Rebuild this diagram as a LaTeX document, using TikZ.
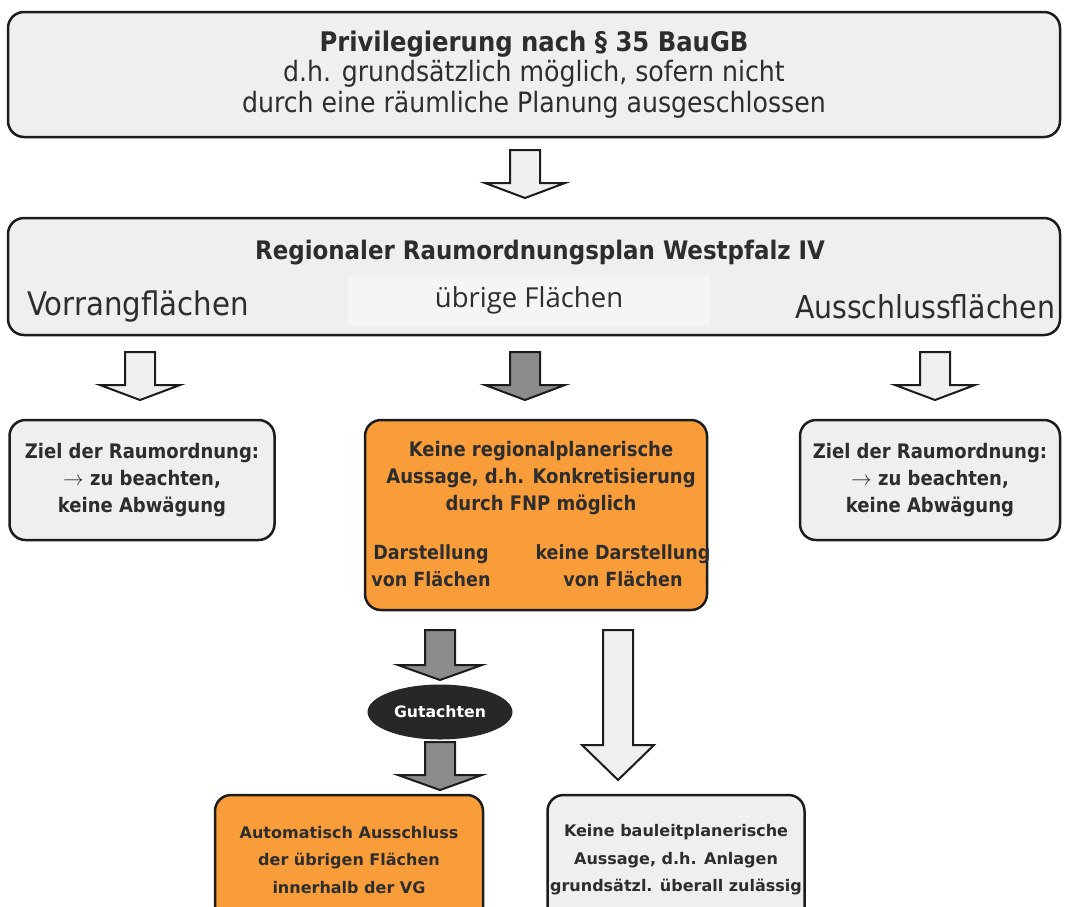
\documentclass[tikz,border=0pt]{standalone}
\usepackage{fontspec}
\setmainfont{DejaVu Sans Condensed}
\newfontfamily\widesans{DejaVu Sans}
\newfontfamily\opensans{Open Sans}
\usetikzlibrary{shapes.geometric}
\definecolor{boxgray}{RGB}{239,239,239}
\definecolor{lightpatch}{RGB}{245,245,245}
\definecolor{myorange}{RGB}{249,157,58}
\definecolor{arrowgray}{RGB}{140,140,140}
\definecolor{darkline}{RGB}{28,28,28}
\definecolor{textgray}{RGB}{45,45,45}
\tikzstyle{graybox} = [draw=darkline, line width=2.5, rounded corners=16,
    fill=boxgray, align=center, inner sep=0, text=textgray]
\tikzstyle{orangebox} = [graybox, fill=myorange]
\tikzstyle{plain} = [draw=none, inner sep=0, align=center, text=textgray]
\tikzstyle{hollow} = [draw=darkline, line width=2, fill=boxgray]
\tikzstyle{filled} = [draw=darkline, line width=2, fill=arrowgray]
% block arrow: style, x, top, start of head, tip, half width of head
\newcommand{\blockdown}[6]{\draw[#1] (#2-15,#3) -- (#2+15,#3) -- (#2+15,#4)
    -- (#2+#6,#4) -- (#2,#5) -- (#2-#6,#4) -- (#2-15,#4) -- cycle;}

\begin{document}
\begin{tikzpicture}[x=1pt, y=-1pt]
\useasboundingbox (0,0) rectangle (1065,906);
\clip (0,0) rectangle (1065,906);

%%% top
\node[graybox, minimum width=1052, minimum height=125,
    font=\fontsize{28}{30.5}\selectfont] (priv) at (534,74.5)
    {{\fontsize{27}{30.5}\selectfont\bfseries Privilegierung nach § 35 BauGB}\\
     d.h. grundsätzlich möglich, sofern nicht\\
     durch eine räumliche Planung ausgeschlossen};

\blockdown{hollow}{525}{150}{183}{198}{40}

%%% regional plan
\node[graybox, minimum width=1052, minimum height=117] (rrop) at (534,276.5) {};
\node[plain, font=\fontsize{25.5}{30}\selectfont\bfseries] (title) at (540,253)
    {Regionaler Raumordnungsplan Westpfalz IV};
\node[plain, font=\fontsize{32.5}{36}\selectfont] (vorrang) at (138,307) {Vorrangflächen};
\node[plain, fill=lightpatch, minimum width=362, minimum height=49,
    font=\opensans\fontsize{27.5}{30}\selectfont] (uebrig) at (529,300) {übrige Flächen};
\node[plain, font=\fontsize{31.5}{36}\selectfont] (ausschl) at (925,307) {Ausschlussflächen};

\blockdown{hollow}{140}{352}{385}{400}{40}
\blockdown{filled}{525}{352}{385}{400}{40}
\blockdown{hollow}{935}{352}{385}{400}{40}

%%% third row
\node[graybox, minimum width=265, minimum height=120,
    font=\fontsize{20}{27}\selectfont\bfseries] (zielL) at (142,480)
    {Ziel der Raumordnung:\\ $\rightarrow$ zu beachten,\\ keine Abwägung};
\node[orangebox, minimum width=342, minimum height=190] (fnp) at (536,515) {};
\node[plain, font=\fontsize{20}{27}\selectfont\bfseries] (keine) at (541,478)
    {Keine regionalplanerische\\ Aussage, d.h. Konkretisierung\\ durch FNP möglich};
\node[plain, font=\fontsize{19.5}{27}\selectfont\bfseries] (darst) at (431,566)
    {Darstellung\\ von Flächen};
\node[plain, font=\fontsize{19.5}{27}\selectfont\bfseries] (keinedarst) at (623,566)
    {keine Darstellung\\ von Flächen};
\node[graybox, minimum width=260, minimum height=120,
    font=\fontsize{20}{27}\selectfont\bfseries] (zielR) at (930,480)
    {Ziel der Raumordnung:\\ $\rightarrow$ zu beachten,\\ keine Abwägung};

%%% below the FNP box
\blockdown{filled}{440}{630}{665}{680}{42}
\node[ellipse, fill=darkline!95!white, text=white, minimum width=145, minimum height=55,
    inner sep=0, font=\widesans\fontsize{15.7}{18}\selectfont\bfseries] (gutachten)
    at (440,712) {Gutachten};
\blockdown{filled}{440}{742}{775}{790}{42}
\blockdown{hollow}{618}{630}{745}{780}{36}

%%% bottom
\node[orangebox, minimum width=268, minimum height=130,
    font=\widesans\fontsize{16}{27.5}\selectfont\bfseries] (auto) at (349,860)
    {Automatisch Ausschluss\\ der übrigen Flächen\\ innerhalb der VG};
\node[graybox, minimum width=257, minimum height=130,
    font=\widesans\fontsize{16}{27.5}\selectfont\bfseries] (bauleit) at (676,860)
    {Keine bauleitplanerische\\ Aussage, d.h. Anlagen\\ grundsätzl. überall zulässig};

\end{tikzpicture}
\end{document}
